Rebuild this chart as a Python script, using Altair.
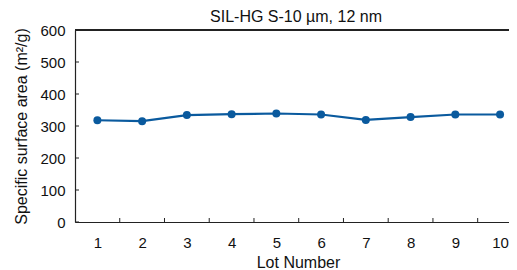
import altair as alt
import pandas as pd

lots = [1, 2, 3, 4, 5, 6, 7, 8, 9, 10]
surface_area = [318, 315, 334, 337, 339, 336, 319, 328, 336, 336]
y_ticks = [0, 100, 200, 300, 400, 500, 600]
x_boundaries = [1.5, 2.5, 3.5, 4.5, 5.5, 6.5, 7.5, 8.5, 9.5]

FONT = "Liberation Sans"
BLUE = "#0a5a9e"
AXC = "#222222"
TXT = "#111111"

df = pd.DataFrame({"lot": lots, "area": surface_area})
yt = pd.DataFrame({"area": y_ticks})
xt = pd.DataFrame({"lot": x_boundaries})

xscale = alt.Scale(domain=[0.5, 10.2], nice=False, zero=False)
yscale = alt.Scale(domain=[0, 600], nice=False)

xaxis = alt.Axis(
    values=lots, format="d", grid=False, ticks=False,
    labelFontSize=15, labelFont=FONT, labelColor=TXT, labelPadding=25,
    labelBaseline="alphabetic", labelFlush=False,
    domainColor=AXC, domainWidth=1.2,
    title="Lot Number", titleFont=FONT, titleFontSize=16, titleFontWeight="normal",
    titleColor=TXT, titleX=223, titleY=45, titleBaseline="alphabetic",
    titleAlign="center",
)
yaxis = alt.Axis(
    values=y_ticks, grid=False, ticks=False,
    labelFontSize=15, labelFont=FONT, labelColor=TXT, labelPadding=10,
    labelBaseline="middle",
    domainColor=AXC, domainWidth=1.2,
    title="Specific surface area (m²/g)", titleFont=FONT, titleFontSize=16,
    titleFontWeight="normal", titleColor=TXT, titleAngle=270,
    titleX=-54, titleY=96, titleAlign="center", titleBaseline="middle",
)

X = alt.X("lot:Q", scale=xscale, axis=xaxis)
Y = alt.Y("area:Q", scale=yscale, axis=yaxis)

base = alt.Chart(df)
line = base.mark_line(color=BLUE, strokeWidth=2.2).encode(x=X, y=Y)
points = base.mark_circle(color=BLUE, size=64, opacity=1).encode(x=X, y=Y)
top = alt.Chart(df).mark_rule(color=AXC, strokeWidth=1.2).encode(y=alt.value(0))
yticks = alt.Chart(yt).mark_rule(color=AXC, strokeWidth=1).encode(
    y=Y, x=alt.value(0), x2=alt.value(4),
)
xticks = alt.Chart(xt).mark_rule(color=AXC, strokeWidth=1).encode(
    x=X, y=alt.value(192), y2=alt.value(188),
)

chart = alt.layer(line, points, yticks, xticks, top).properties(
    width=434, height=192,
    autosize=alt.AutoSizeParams(type="none"),
    padding={"left": 67, "top": 22, "right": 0, "bottom": 48},
    title=alt.TitleParams(
        "SIL-HG S-10 µm, 12 nm", font=FONT, fontSize=16, fontWeight="normal",
        color=TXT, offset=8, baseline="alphabetic", anchor="middle", frame="group",
        dy=23, dx=4,
    ),
).configure_view(stroke=None).configure(background="white")

chart.save("out.html", embed_options={"renderer": "svg", "actions": False})
